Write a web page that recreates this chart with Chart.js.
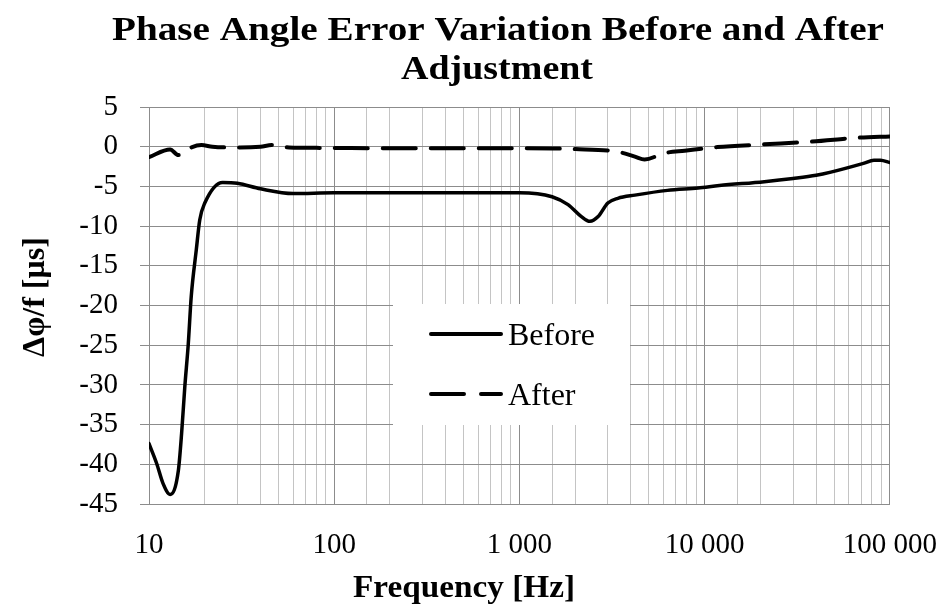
<!DOCTYPE html>
<html>
<head>
<meta charset="utf-8">
<script src="https://cdn.jsdelivr.net/npm/chart.js@4.4.1/dist/chart.umd.min.js"></script>
<style>
    html, body { margin: 0; padding: 0; background: #fff; }
</style>
</head>
<body>
<canvas id="lineChart" width="952" height="605"></canvas>
<script>
var beforeFreq = [10, 11.0, 11.9, 13.0, 14.4, 15.0, 15.6, 16.3, 16.9, 18.0, 18.8, 20.0, 25, 30, 40, 60,
    100, 200, 500, 1000, 1500, 1830, 2160, 2400, 2660, 3000, 3400, 4200, 6300, 9200, 12000,
    21000, 30000, 40000, 48000, 72000, 82000, 89000, 100000];
var beforeVal = [-37.4, -39.9, -42.4, -43.8, -40.8, -36.1, -30.3, -24.8, -18.9, -13.0, -9.2, -7.1, -4.5, -4.6, -5.3, -5.9,
    -5.8, -5.8, -5.8, -5.8, -6.3, -7.3, -8.8, -9.4, -8.8, -7.1, -6.5, -6.1, -5.5, -5.2, -4.9,
    -4.4, -4.0, -3.6, -3.2, -2.1, -1.7, -1.7, -2.0];

var afterFreq = [10, 13, 14.4, 16.9, 19.2, 22, 31, 40, 46, 57, 86, 200, 1000, 2000, 3400, 4200, 4740,
    6100, 7800, 11700, 21000, 38000, 69000, 100000];
var afterVal = [-1.3, -0.35, -1.05, -0.1, 0.2, 0.0, -0.1, 0.0, 0.2, -0.1, -0.15, -0.2, -0.2, -0.3, -0.65, -1.25, -1.6,
    -0.8, -0.5, -0.05, 0.3, 0.65, 1.15, 1.3];

var xTickLabels = { 10: "10", 100: "100", 1000: "1 000", 10000: "10 000", 100000: "100 000" };
var titleLines = ["Phase Angle Error Variation Before and After", "Adjustment"];
var xTitle = "Frequency [Hz]";
var yTitle = "Δφ/f [μs]";
var seriesNames = ["Before", "After"];

var serif = "'Liberation Serif', 'DejaVu Serif', serif";

function toPoints(xs, ys) {
    var pts = [];
    for (var i = 0; i < xs.length; i++) {
        pts.push({ x: xs[i], y: ys[i] });
    }
    return pts;
}

function isDecade(v) {
    var l = Math.log10(v);
    return Math.abs(l - Math.round(l)) < 1e-9;
}

// draws text centred on cx, stretched sideways to a given width (the original font is wider)
function fitText(ctx, text, cx, y, width) {
    var w = ctx.measureText(text).width;
    ctx.save();
    ctx.translate(cx, y);
    ctx.scale(width / w, 1);
    ctx.textAlign = 'center';
    ctx.fillText(text, 0, 0);
    ctx.restore();
}

var textLayer = {
    id: 'textLayer',
    beforeDatasetsDraw: function (chart) {
        var ctx = chart.ctx;
        ctx.save();
        ctx.fillStyle = '#fff';
        ctx.fillRect(393, 304, 237, 121);

        ctx.strokeStyle = '#000';
        ctx.lineWidth = 4;
        ctx.lineCap = 'round';
        ctx.beginPath();
        ctx.moveTo(431, 334);
        ctx.lineTo(501, 334);
        ctx.stroke();
        ctx.beginPath();
        ctx.moveTo(431, 394);
        ctx.lineTo(464, 394);
        ctx.moveTo(481, 394);
        ctx.lineTo(501, 394);
        ctx.stroke();

        ctx.fillStyle = '#000';
        ctx.font = "32px " + serif;
        ctx.textAlign = 'left';
        ctx.textBaseline = 'alphabetic';
        ctx.fillText(seriesNames[0], 508, 345);
        ctx.fillText(seriesNames[1], 508, 405);
        ctx.restore();
    },
    afterDraw: function (chart) {
        var ctx = chart.ctx;
        ctx.save();
        ctx.fillStyle = '#000';
        ctx.textBaseline = 'alphabetic';
        ctx.font = "bold 33px " + serif;
        fitText(ctx, titleLines[0], 498, 40, 772);
        fitText(ctx, titleLines[1], 497, 79, 192);

        ctx.font = "bold 32px " + serif;
        fitText(ctx, xTitle, 464, 597, 222);

        ctx.translate(44, 297);
        ctx.rotate(-Math.PI / 2);
        fitText(ctx, yTitle, 0, 0, 120);
        ctx.restore();
    }
};

var data = {
    datasets: [
        {
            label: seriesNames[0],
            data: toPoints(beforeFreq, beforeVal),
            borderColor: '#000',
            borderWidth: 3.5,
            pointRadius: 0,
            cubicInterpolationMode: 'monotone',
            borderCapStyle: 'round',
            borderJoinStyle: 'round'
        },
        {
            label: seriesNames[1],
            data: toPoints(afterFreq, afterVal),
            borderColor: '#000',
            borderWidth: 4,
            borderDash: [33, 15],
            pointRadius: 0,
            cubicInterpolationMode: 'monotone',
            borderCapStyle: 'round',
            borderJoinStyle: 'round'
        }
    ]
};

var options = {
    responsive: false,
    animation: false,
    layout: { padding: { top: 107, right: 59, bottom: 0, left: 0 } },
    plugins: {
        legend: { display: false },
        title: { display: false },
        tooltip: { enabled: false }
    },
    scales: {
        x: {
            type: 'logarithmic',
            min: 10,
            max: 100000,
            afterFit: function (scale) { scale.height = 101; },
            border: { color: '#8c8c8c', width: 1 },
            grid: {
                color: function (c) {
                    return c.tick && isDecade(c.tick.value) ? '#8c8c8c' : '#c4c4c4';
                },
                lineWidth: 1,
                tickLength: 9,
                tickColor: 'rgba(0,0,0,0)'
            },
            ticks: {
                autoSkip: false,
                maxRotation: 0,
                padding: 15,
                color: '#000',
                font: { family: serif, size: 29 },
                callback: function (v) {
                    return isDecade(v) ? xTickLabels[Math.round(v)] : '';
                }
            }
        },
        y: {
            min: -45,
            max: 5,
            afterFit: function (scale) { scale.width = 149; },
            border: { color: '#8c8c8c', width: 1 },
            grid: {
                color: '#8c8c8c',
                lineWidth: 1,
                tickLength: 9,
                tickColor: '#8c8c8c'
            },
            ticks: {
                stepSize: 5,
                padding: 22,
                color: '#000',
                font: { family: serif, size: 29 }
            }
        }
    }
};

var ctx = document.getElementById("lineChart").getContext("2d");
new Chart(ctx, { type: 'line', data: data, options: options, plugins: [textLayer] });
</script>
</body>
</html>
